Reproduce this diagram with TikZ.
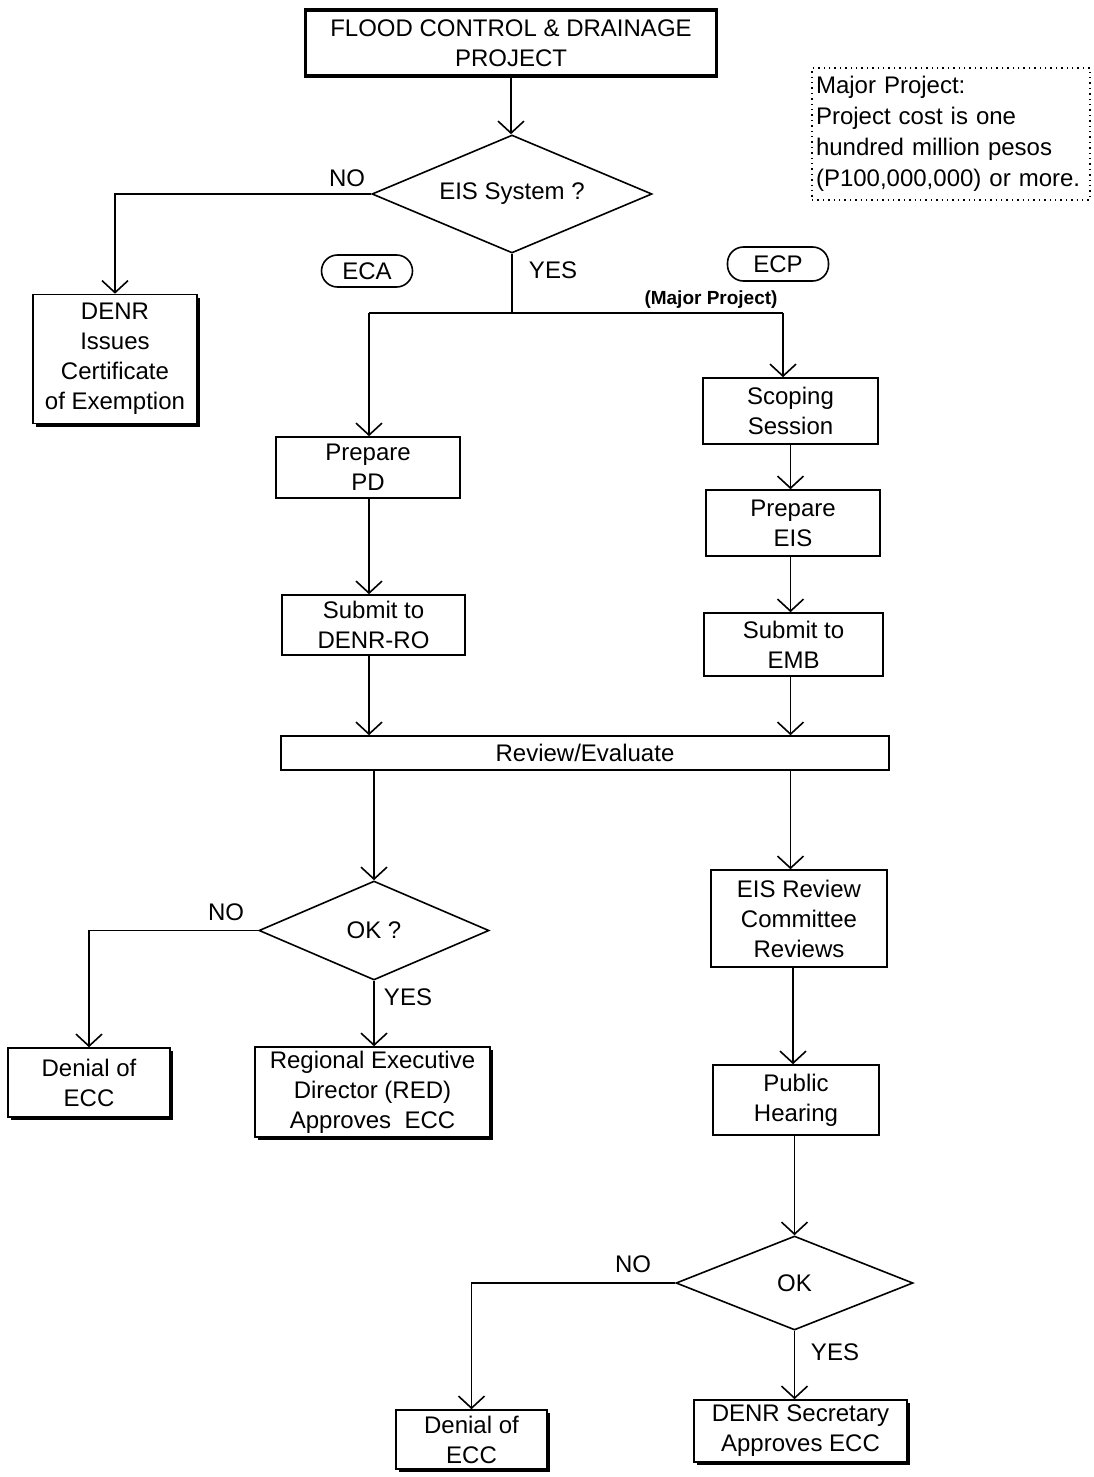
\documentclass[tikz,border=0pt]{standalone}
\usepackage{fontspec}
\setmainfont{Liberation Sans}
\usetikzlibrary{shapes,arrows.meta,positioning,shadows}

\tikzstyle{box} = [rectangle, draw, line width=0.8pt, fill=white, align=center, inner sep=0pt, font=\fontsize{12}{15}\selectfont]
\tikzstyle{sbox} = [box, drop shadow={shadow xshift=1.5pt, shadow yshift=-1.5pt, fill=black, opacity=1}]
\tikzstyle{topbox} = [box, line width=1.8pt]
\tikzstyle{dec} = [diamond, shape aspect=2.4, draw, line width=0.8pt, inner sep=0pt, font=\fontsize{12}{15}\selectfont]
\tikzstyle{tag} = [rectangle, draw, rounded corners=8pt, line width=0.8pt, inner sep=0pt, font=\fontsize{12}{15}\selectfont]
\tikzstyle{note} = [rectangle, draw, dotted, line width=0.7pt, align=left, text width=135pt, inner sep=2pt, minimum height=66pt, font=\fontsize{12}{15.5}\selectfont]
\tikzstyle{lbl} = [inner sep=0pt, font=\fontsize{12}{15}\selectfont]
\tikzstyle{tline} = [draw, line width=0.8pt]
\tikzstyle{tedge} = [draw, line width=0.8pt, -{Straight Barb[length=6pt, width=13pt]}]

\begin{document}
\begin{tikzpicture}[x=0.5pt, y=-0.5pt]
\useasboundingbox (0,0) rectangle (1093,1477);

% start ===================================
\node[topbox, minimum width=205.5pt, minimum height=33pt] (flood) at (511,43) {FLOOD CONTROL \& DRAINAGE\\PROJECT};
\node[dec, minimum width=140pt, minimum height=59pt] (eis) at (512,194) {EIS System ?};
\node[note] (major) at (951,134) {Major Project:\\Project cost is one\\hundred million pesos\\(P100,000,000) or more.};

% not covered
\node[sbox, minimum width=82pt, minimum height=64.5pt] (exempt) at (115,359) {DENR\\Issues\\Certificate\\of Exemption};

% tags
\node[tag, minimum width=45.5pt, minimum height=16pt] (eca) at (367,271) {ECA};
\node[tag, minimum width=50.5pt, minimum height=17pt] (ecp) at (778,264) {ECP};
\node[lbl, font=\bfseries\fontsize{9.5}{11}\selectfont] (major2) at (711,300) {(Major Project)};

% split
\coordinate (split) at (512,313);
\coordinate (splitL) at (369,313);
\coordinate (splitR) at (783,313);

% ECA branch
\node[box, minimum width=92pt, minimum height=30.5pt] (prepPD) at (368,467.5) {Prepare\\PD};
\node[box, minimum width=91.5pt, minimum height=30pt] (submitRO) at (373.5,625) {Submit to\\DENR-RO};

% ECP branch
\node[box, minimum width=87.5pt, minimum height=33pt] (scoping) at (790.5,411) {Scoping\\Session};
\node[box, minimum width=87pt, minimum height=33pt] (prepEIS) at (793,523) {Prepare\\EIS};
\node[box, minimum width=89.5pt, minimum height=31.5pt] (submitEMB) at (793.5,644.5) {Submit to\\EMB};

% review
\node[box, minimum width=304pt, minimum height=17pt] (review) at (585,753) {Review/Evaluate};

% ECA decision
\node[dec, minimum width=115pt, minimum height=49.5pt] (ok1) at (374,930.5) {OK ?};
\node[sbox, minimum width=81pt, minimum height=34.5pt] (deny1) at (89,1082.5) {Denial of\\ECC};
\node[sbox, minimum width=117.5pt, minimum height=45pt] (red) at (372.5,1092) {Regional Executive\\Director (RED)\\Approves\ \ ECC};

% ECP decision
\node[box, minimum width=88pt, minimum height=48.5pt] (committee) at (799,918.5) {EIS Review\\Committee\\Reviews};
\node[box, minimum width=83pt, minimum height=35pt] (hearing) at (796,1100) {Public\\Hearing};
\node[dec, minimum width=118.5pt, minimum height=47pt] (ok2) at (794.5,1283) {OK};
\node[sbox, minimum width=75.5pt, minimum height=29.5pt] (deny2) at (471.5,1439.5) {Denial of\\ECC};
\node[sbox, minimum width=106.5pt, minimum height=31pt] (secretary) at (800.5,1431) {DENR Secretary\\Approves ECC};

% labels
\node[lbl] (no1) at (347,178) {NO};
\node[lbl] (yes1) at (553,270) {YES};
\node[lbl] (no2) at (226,912) {NO};
\node[lbl] (yes2) at (408,997) {YES};
\node[lbl] (no3) at (633,1264) {NO};
\node[lbl] (yes3) at (835,1352) {YES};

%edges
\path[tedge] (flood.south) -- (flood.south |- eis.north);
\path[tedge] (eis.west) -| (exempt.north);
\path[tline] (eis.south) -- (split);
\path[tline] (splitL) -- (splitR);
\path[tedge] (splitL) -- (splitL |- prepPD.north);
\path[tedge] (splitR) -- (splitR |- scoping.north);

\path[tedge] (prepPD.south -| splitL) -- (splitL |- submitRO.north);
\path[tedge] (submitRO.south -| splitL) -- (splitL |- review.north);
\path[tedge] (scoping.south) -- (scoping.south |- prepEIS.north);
\path[tedge] (prepEIS.south -| scoping.south) -- (scoping.south |- submitEMB.north);
\path[tedge] (submitEMB.south -| scoping.south) -- (scoping.south |- review.north);

\path[tedge] (ok1.north |- review.south) -- (ok1.north);
\path[tedge] (ok1.west) -| (deny1.north);
\path[tedge] (ok1.south) -- (ok1.south |- red.north);

\path[tedge] (scoping.south |- review.south) -- (scoping.south |- committee.north);
\path[tedge] (committee.south -| prepEIS.south) -- (prepEIS.south |- hearing.north);
\path[tedge] (hearing.south -| ok2.north) -- (ok2.north);
\path[tedge] (ok2.west) -| (deny2.north);
\path[tedge] (ok2.south) -- (ok2.south |- secretary.north);

\end{tikzpicture}
\end{document}
